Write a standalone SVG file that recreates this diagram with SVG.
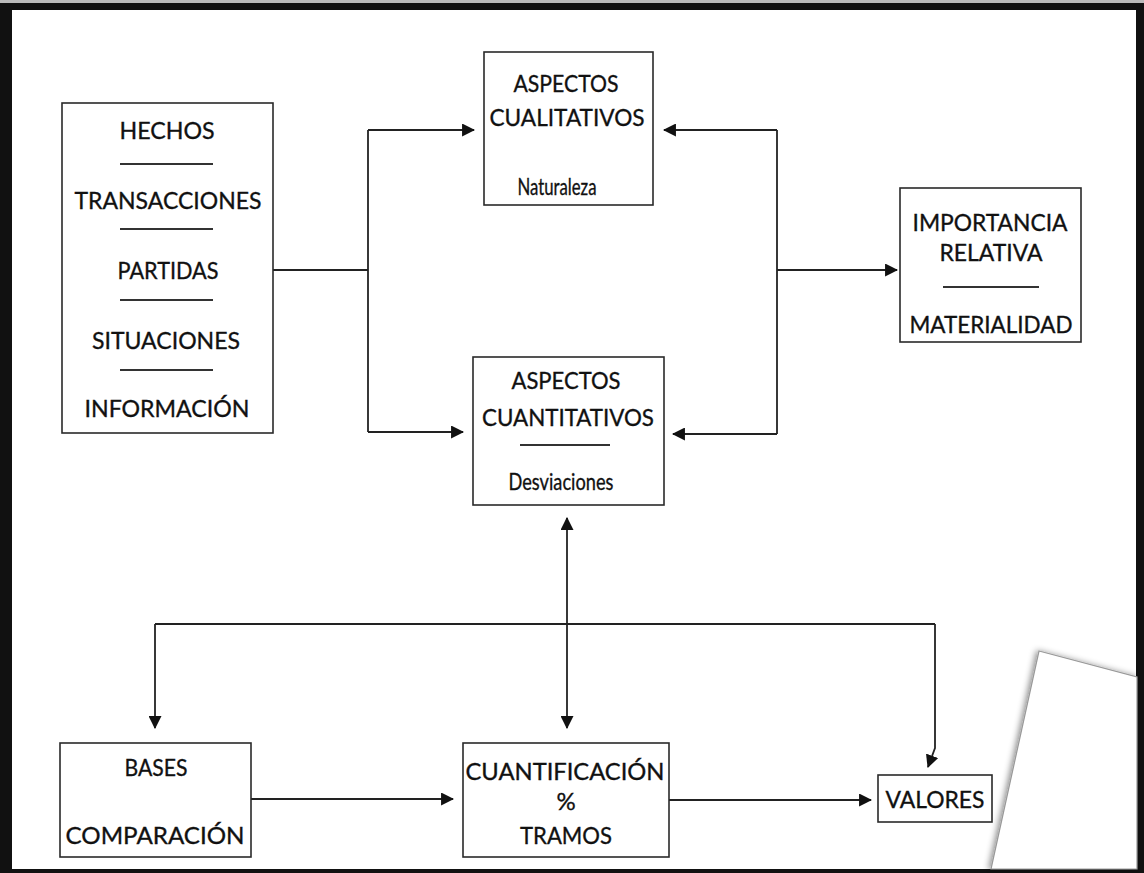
<svg xmlns="http://www.w3.org/2000/svg" width="1144" height="873" viewBox="0 0 1144 873">
<defs>
<style>
.box{fill:#fff;stroke:#2a2a2a;stroke-width:1.6}
.sep{stroke:#333;stroke-width:2}
.t{font-family:"Lato","Liberation Sans",sans-serif;font-size:24px;fill:#111;stroke:#111;stroke-width:0.35;text-anchor:middle}
.s{font-size:24px}
.c{fill:none;stroke:#222;stroke-width:1.8}
</style>
<marker id="ah" viewBox="0 0 12 12" refX="11" refY="6" markerWidth="13" markerHeight="13" markerUnits="userSpaceOnUse" orient="auto-start-reverse">
<path d="M0,0 L12,6 L0,12 Z" fill="#111"/>
</marker>
<filter id="sh" x="-20%" y="-20%" width="140%" height="140%">
<feDropShadow dx="-2" dy="0" stdDeviation="3" flood-color="#000" flood-opacity="0.45"/>
</filter>
</defs>
<rect x="0" y="0" width="1144" height="873" fill="#111"/>
<rect x="0" y="0" width="1144" height="3" fill="#bbb"/>
<rect x="12" y="10" width="1124" height="859" fill="#fff"/>
<g id="paper">
<polygon points="1039,651 1137,677 1137,869 991,869" fill="#fff" stroke="#999" stroke-width="1.2" filter="url(#sh)"/>
</g>
<g id="connectors">
<path class="c" d="M273,270 L368,270"/>
<path class="c" d="M368,130 L368,432"/>
<path class="c" d="M368,130 L474,130" marker-end="url(#ah)"/>
<path class="c" d="M368,432 L463,432" marker-end="url(#ah)"/>
<path class="c" d="M777,130 L777,434"/>
<path class="c" d="M777,130 L664,130" marker-end="url(#ah)"/>
<path class="c" d="M777,434 L673,434" marker-end="url(#ah)"/>
<path class="c" d="M777,270 L897,270" marker-end="url(#ah)"/>
<path class="c" d="M567,518 L567,728" marker-start="url(#ah)" marker-end="url(#ah)"/>
<path class="c" d="M155,624 L935,624"/>
<path class="c" d="M155,624 L155,728" marker-end="url(#ah)"/>
<path class="c" d="M935,624 L935,748 L928,767" marker-end="url(#ah)"/>
<path class="c" d="M251,799 L453,799" marker-end="url(#ah)"/>
<path class="c" d="M669,800 L871,800" marker-end="url(#ah)"/>
</g>
<g id="hechos">
<rect class="box" x="62" y="103" width="211" height="330"/>
<text class="t" x="167" y="139" textLength="95" lengthAdjust="spacingAndGlyphs">HECHOS</text>
<line class="sep" x1="120" y1="164" x2="213" y2="164"/>
<text class="t" x="168" y="209" textLength="187" lengthAdjust="spacingAndGlyphs">TRANSACCIONES</text>
<line class="sep" x1="120" y1="229" x2="213" y2="229"/>
<text class="t" x="168" y="279" textLength="101" lengthAdjust="spacingAndGlyphs">PARTIDAS</text>
<line class="sep" x1="120" y1="300" x2="213" y2="300"/>
<text class="t" x="166" y="349" textLength="148" lengthAdjust="spacingAndGlyphs">SITUACIONES</text>
<line class="sep" x1="120" y1="370" x2="213" y2="370"/>
<text class="t" x="167" y="417" textLength="165" lengthAdjust="spacingAndGlyphs">INFORMACIÓN</text>
</g>
<g id="cualitativos">
<rect class="box" x="484" y="52" width="169" height="153"/>
<text class="t" x="566" y="92" textLength="105" lengthAdjust="spacingAndGlyphs">ASPECTOS</text>
<text class="t" x="567" y="126" textLength="155" lengthAdjust="spacingAndGlyphs">CUALITATIVOS</text>
<text class="t s" x="557" y="195" textLength="79" lengthAdjust="spacingAndGlyphs">Naturaleza</text>
</g>
<g id="cuantitativos">
<rect class="box" x="473" y="357" width="191" height="148"/>
<text class="t" x="566" y="389" textLength="109" lengthAdjust="spacingAndGlyphs">ASPECTOS</text>
<text class="t" x="568" y="426" textLength="172" lengthAdjust="spacingAndGlyphs">CUANTITATIVOS</text>
<line class="sep" x1="520" y1="445" x2="610" y2="445"/>
<text class="t s" x="561" y="490" textLength="105" lengthAdjust="spacingAndGlyphs">Desviaciones</text>
</g>
<g id="importancia">
<rect class="box" x="900" y="188" width="181" height="154"/>
<text class="t" x="990" y="231" textLength="155" lengthAdjust="spacingAndGlyphs">IMPORTANCIA</text>
<text class="t" x="991" y="261" textLength="103" lengthAdjust="spacingAndGlyphs">RELATIVA</text>
<line class="sep" x1="943" y1="287" x2="1039" y2="287"/>
<text class="t" x="991" y="333" textLength="163" lengthAdjust="spacingAndGlyphs">MATERIALIDAD</text>
</g>
<g id="bases">
<rect class="box" x="60" y="743" width="191" height="114"/>
<text class="t" x="156" y="776" textLength="63" lengthAdjust="spacingAndGlyphs">BASES</text>
<text class="t" x="155" y="844" textLength="179" lengthAdjust="spacingAndGlyphs">COMPARACIÓN</text>
</g>
<g id="cuantificacion">
<rect class="box" x="463" y="743" width="206" height="114"/>
<text class="t" x="565" y="780" textLength="199" lengthAdjust="spacingAndGlyphs">CUANTIFICACIÓN</text>
<text class="t" x="566" y="810" font-size="18">%</text>
<text class="t" x="566" y="844" textLength="92" lengthAdjust="spacingAndGlyphs">TRAMOS</text>
</g>
<g id="valores">
<rect class="box" x="878" y="775" width="114" height="47"/>
<text class="t" x="935" y="808" textLength="99" lengthAdjust="spacingAndGlyphs">VALORES</text>
</g>
</svg>
